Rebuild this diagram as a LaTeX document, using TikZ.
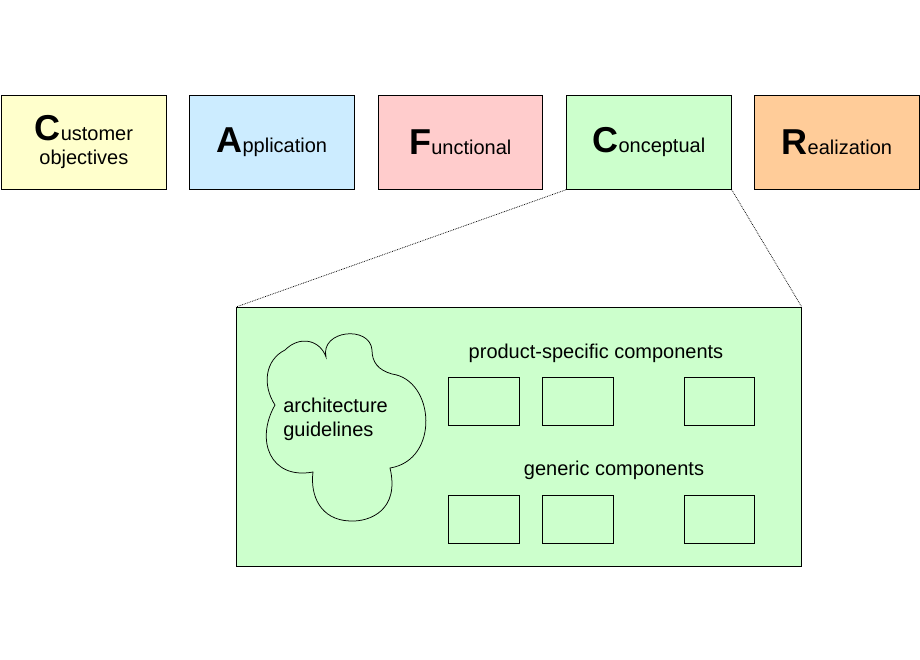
\documentclass[tikz,border=0pt]{standalone}
\usepackage{fontspec}
\setmainfont{Liberation Sans}
\definecolor{custyellow}{RGB}{255,255,204}
\definecolor{appblue}{RGB}{204,236,255}
\definecolor{funcpink}{RGB}{255,204,204}
\definecolor{concgreen}{RGB}{204,255,204}
\definecolor{realorange}{RGB}{255,204,153}
\tikzset{every picture/.style={line width=0.75pt}}
\tikzset{
  viewbox/.style={draw, inner sep=0pt, anchor=north west, font=\fontsize{20}{24}\selectfont, align=center},
  compbox/.style={draw, fill=concgreen, minimum width=71pt, minimum height=48pt, inner sep=0pt, anchor=north west},
  lbl/.style={font=\fontsize{20}{24}\selectfont, inner sep=0pt}
}
\newcommand{\initial}[1]{{\fontsize{36}{36}\selectfont\bfseries #1}}
\begin{document}
\begin{tikzpicture}[x=1pt,y=1pt,yscale=-1,xscale=1]
\useasboundingbox (0,0) rectangle (920,660);

% Views
\node[viewbox, fill=custyellow, minimum width=165pt, minimum height=94pt] (cust) at (1,95) {\initial{C}ustomer\\objectives};
\node[viewbox, fill=appblue, minimum width=165pt, minimum height=94pt] (app) at (189,95) {\initial{A}pplication};
\node[viewbox, fill=funcpink, minimum width=164pt, minimum height=94pt] (func) at (378,95) {\initial{F}unctional};
\node[viewbox, fill=concgreen, minimum width=165pt, minimum height=94pt] (conc) at (566,95) {\initial{C}onceptual};
\node[viewbox, fill=realorange, minimum width=165pt, minimum height=94pt] (real) at (754,95) {\initial{R}ealization};

% Zoomed view
\node[draw, fill=concgreen, minimum width=565pt, minimum height=259pt, inner sep=0pt, anchor=north west] (zoom) at (236,307) {};
\draw[densely dotted] (conc.south west) -- (zoom.north west);
\draw[densely dotted] (conc.south east) -- (zoom.north east);

% Cloud
\draw (326,357) .. controls (320,330) and (370,325) .. (372,350)
  .. controls (372,362) and (378,370) .. (392,374)
  .. controls (435,380) and (440,460) .. (390,468)
  .. controls (400,510) and (370,522) .. (350,521)
  .. controls (320,520) and (310,495) .. (313,472)
  .. controls (270,480) and (255,440) .. (275,405)
  .. controls (262,385) and (265,360) .. (285,350)
  .. controls (300,335) and (320,340) .. (326,357) -- cycle;
\node[lbl, align=left, anchor=west] (guide) at (283,419) {architecture\\guidelines};

% Components
\node[lbl] (specific) at (596,353) {product-specific components};
\node[compbox] (s1) at (448,377) {};
\node[compbox] (s2) at (542,377) {};
\node[compbox, minimum width=70pt] (s3) at (684,377) {};
\node[lbl] (generic) at (614,470) {generic components};
\node[compbox] (g1) at (448,495) {};
\node[compbox] (g2) at (542,495) {};
\node[compbox, minimum width=70pt] (g3) at (684,495) {};

\end{tikzpicture}
\end{document}
